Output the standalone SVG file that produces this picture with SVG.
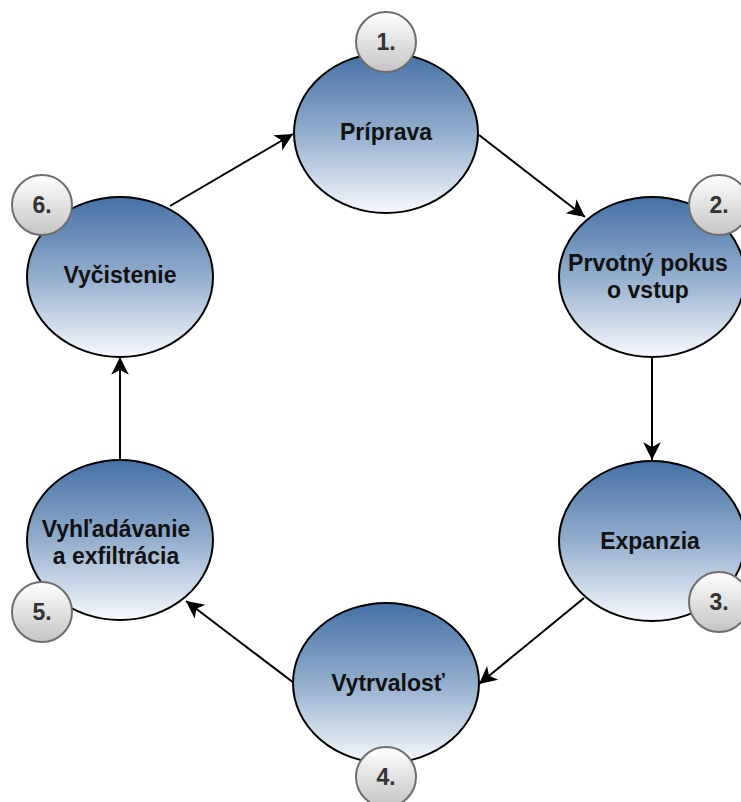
<svg xmlns="http://www.w3.org/2000/svg" width="741" height="802" viewBox="0 0 741 802">
  <style>
    .node { stroke: #000; stroke-width: 2; fill: url(#nodeFill); }
    .badge { stroke: #6e6e6e; stroke-width: 2; fill: url(#badgeFill); }
    .label { font-family: "Liberation Sans", Arial, sans-serif; font-weight: bold; font-size: 23px; fill: #111; text-anchor: middle; }
    .num { font-family: "Liberation Sans", Arial, sans-serif; font-weight: bold; font-size: 23px; fill: #333; text-anchor: middle; }
    .edge { stroke: #000; stroke-width: 2; fill: none; marker-end: url(#arrow); }
  </style>
  <defs>
    <linearGradient id="nodeFill" x1="0" y1="0" x2="0" y2="1">
      <stop offset="0" stop-color="#4470a5"/>
      <stop offset="0.5" stop-color="#93aecd"/>
      <stop offset="1" stop-color="#f7f9fd"/>
    </linearGradient>
    <linearGradient id="badgeFill" x1="0" y1="0" x2="0" y2="1">
      <stop offset="0" stop-color="#ffffff"/>
      <stop offset="1" stop-color="#c4c4c4"/>
    </linearGradient>
    <marker id="arrow" markerUnits="userSpaceOnUse" markerWidth="20" markerHeight="20" viewBox="-16 -8 17 16" refX="0" refY="0" orient="auto">
      <path d="M0,0 L-15,-7.5 L-11,0 L-15,7.5 Z" fill="#000"/>
    </marker>
  </defs>

  <g id="connectors">
    <line class="edge" x1="479" y1="135" x2="585" y2="217"/>
    <line class="edge" x1="652" y1="357" x2="652" y2="460"/>
    <line class="edge" x1="584" y1="598" x2="479" y2="684"/>
    <line class="edge" x1="294" y1="683" x2="186" y2="601"/>
    <line class="edge" x1="120" y1="460" x2="120" y2="357"/>
    <line class="edge" x1="170" y1="206" x2="293" y2="134"/>
  </g>

  <g id="node-1">
    <ellipse class="node" cx="386" cy="133" rx="92" ry="80"/>
    <text class="label" x="386" y="140">Príprava</text>
    <circle class="badge" cx="386" cy="42" r="30"/>
    <text class="num" x="386" y="50">1.</text>
  </g>

  <g id="node-2">
    <ellipse class="node" cx="652" cy="277" rx="93" ry="80"/>
    <text class="label" x="648" y="271">Prvotný pokus</text>
    <text class="label" x="648" y="298">o vstup</text>
    <circle class="badge" cx="719" cy="205" r="30"/>
    <text class="num" x="719" y="213">2.</text>
  </g>

  <g id="node-3">
    <ellipse class="node" cx="652" cy="541" rx="93" ry="80"/>
    <text class="label" x="650" y="549">Expanzia</text>
    <circle class="badge" cx="719" cy="602" r="30"/>
    <text class="num" x="719" y="610">3.</text>
  </g>

  <g id="node-4">
    <ellipse class="node" cx="386" cy="683" rx="93" ry="80"/>
    <text class="label" x="388" y="691">Vytrvalosť</text>
    <circle class="badge" cx="386" cy="777" r="30"/>
    <text class="num" x="386" y="785">4.</text>
  </g>

  <g id="node-5">
    <ellipse class="node" cx="120" cy="540" rx="93" ry="80"/>
    <text class="label" x="116" y="537">Vyhľadávanie</text>
    <text class="label" x="116" y="564">a exfiltrácia</text>
    <circle class="badge" cx="42" cy="612" r="30"/>
    <text class="num" x="42" y="620">5.</text>
  </g>

  <g id="node-6">
    <ellipse class="node" cx="120" cy="277" rx="93" ry="80"/>
    <text class="label" x="120" y="283">Vyčistenie</text>
    <circle class="badge" cx="42" cy="205" r="30"/>
    <text class="num" x="42" y="213">6.</text>
  </g>
</svg>
